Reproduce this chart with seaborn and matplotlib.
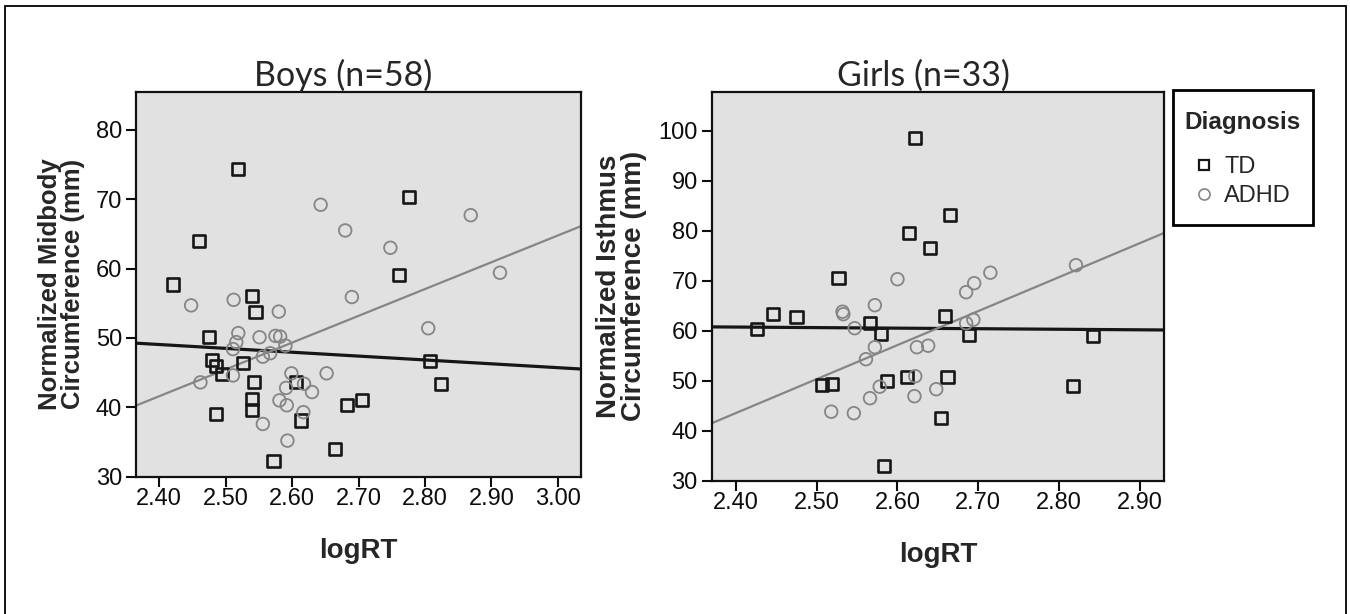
import numpy as np
import pandas as pd
import matplotlib
matplotlib.use('Agg')
import matplotlib.pyplot as plt
import seaborn as sns
from matplotlib import font_manager
from matplotlib.lines import Line2D
from matplotlib.patches import Rectangle

# Values (logRT, normalized circumference in mm)
boys_td_x = [2.519, 2.776, 2.460, 2.421, 2.761, 2.539, 2.545, 2.475, 2.479, 2.486,
             2.494, 2.526, 2.807, 2.543, 2.824, 2.606, 2.705, 2.683, 2.540, 2.540,
             2.486, 2.613, 2.664, 2.572]
boys_td_y = [74.4, 70.3, 64.0, 57.7, 59.1, 56.1, 53.7, 50.2, 46.8, 45.9,
             44.8, 46.4, 46.7, 43.7, 43.3, 43.7, 41.1, 40.3, 41.2, 39.6,
             39.1, 38.1, 34.0, 32.3]

boys_adhd_x = [2.643, 2.869, 2.680, 2.748, 2.913, 2.690, 2.448, 2.512, 2.580, 2.805,
               2.519, 2.551, 2.575, 2.582, 2.516, 2.511, 2.590, 2.567, 2.556, 2.652,
               2.599, 2.511, 2.462, 2.618, 2.591, 2.630, 2.581, 2.592, 2.617, 2.556,
               2.593]
boys_adhd_y = [69.2, 67.7, 65.5, 63.0, 59.4, 55.9, 54.7, 55.5, 53.8, 51.4,
               50.7, 50.1, 50.3, 50.2, 49.4, 48.4, 48.9, 47.8, 47.3, 44.9,
               44.9, 44.6, 43.6, 43.4, 42.8, 42.2, 41.0, 40.3, 39.3, 37.6,
               35.2]

girls_td_x = [2.622, 2.665, 2.614, 2.640, 2.527, 2.446, 2.475, 2.426, 2.566, 2.580,
              2.659, 2.689, 2.507, 2.519, 2.587, 2.612, 2.662, 2.654, 2.583, 2.842,
              2.817]
girls_td_y = [98.6, 83.1, 79.6, 76.5, 70.6, 63.3, 62.8, 60.4, 61.5, 59.3,
              62.9, 59.1, 49.1, 49.3, 49.9, 50.7, 50.7, 42.5, 32.9, 58.9,
              48.9]

girls_adhd_x = [2.600, 2.532, 2.533, 2.572, 2.547, 2.572, 2.561, 2.624, 2.638, 2.622,
                2.578, 2.566, 2.621, 2.648, 2.518, 2.546, 2.685, 2.695, 2.715, 2.694,
                2.685, 2.821]
girls_adhd_y = [70.3, 63.8, 63.3, 65.1, 60.5, 56.7, 54.3, 56.7, 57.0, 50.9,
                48.8, 46.5, 46.9, 48.3, 43.8, 43.5, 67.7, 69.5, 71.6, 62.2,
                61.5, 73.1]

diagnoses = ['TD', 'ADHD']

TD_COLOR = '#161616'
ADHD_COLOR = '#858585'
BG = '#e1e1e1'

sns.set_theme(style='ticks')
names = {f.name for f in font_manager.fontManager.ttflist}
tick_font = 'Liberation Sans Narrow' if 'Liberation Sans Narrow' in names else 'Liberation Sans'
title_font = 'Lato' if 'Lato' in names else 'DejaVu Sans'
plt.rcParams['font.family'] = ['Liberation Sans', 'DejaVu Sans']

fig = plt.figure(figsize=(13.5, 6.14), dpi=100)
ax1 = fig.add_axes([136 / 1350, 1 - 476.7 / 614, 445 / 1350, 385 / 614])
ax2 = fig.add_axes([711.7 / 1350, 1 - 480.7 / 614, 452.3 / 1350, 389 / 614])


def draw_panel(ax, td, adhd, xlim, ylim, xticks, yticks, title, title_x, ylabel, ylabel_size):
    ax.set_facecolor(BG)
    ax.set_xlim(xlim)
    ax.set_ylim(ylim)
    # fit lines go across the whole axis, like the original
    sns.regplot(x=td[0], y=td[1], ax=ax, ci=None, truncate=False, marker='s',
                color=TD_COLOR,
                scatter_kws=dict(s=76, facecolors='none', linewidths=1.9, alpha=1, zorder=3),
                line_kws=dict(color=TD_COLOR, lw=2.3, zorder=2))
    sns.regplot(x=adhd[0], y=adhd[1], ax=ax, ci=None, truncate=False, marker='o',
                color=ADHD_COLOR,
                scatter_kws=dict(s=82, facecolors='none', linewidths=1.3, alpha=1, zorder=3),
                line_kws=dict(color=ADHD_COLOR, lw=1.6, zorder=2))
    ax.set_xlim(xlim)
    ax.set_ylim(ylim)
    ax.set_xticks(xticks)
    ax.set_xticklabels([f'{t:.2f}' for t in xticks])
    ax.set_yticks(yticks)
    ax.tick_params(direction='out', length=7, width=1.5, colors='#0d0d0d',
                   labelsize=17, labelfontfamily=tick_font)
    ax.tick_params(axis='x', pad=1)
    ax.tick_params(axis='y', pad=3)
    for sp in ax.spines.values():
        sp.set_linewidth(1.6)
        sp.set_color('#111111')
    ax.set_title(title, fontsize=24.5, family=title_font, x=title_x, pad=3)
    ax.set_xlabel('logRT', fontsize=20, fontweight='bold', labelpad=20)
    ax.set_ylabel(ylabel, fontsize=ylabel_size, fontweight='bold', linespacing=0.95, labelpad=8)


draw_panel(ax1, (boys_td_x, boys_td_y), (boys_adhd_x, boys_adhd_y),
           (2.365, 3.035), (30, 85.5),
           [2.4, 2.5, 2.6, 2.7, 2.8, 2.9, 3.0], [30, 40, 50, 60, 70, 80],
           'Boys (n=58)', 0.465, 'Normalized Midbody\nCircumference (mm)', 18.5)
draw_panel(ax2, (girls_td_x, girls_td_y), (girls_adhd_x, girls_adhd_y),
           (2.370, 2.930), (30, 107.8),
           [2.4, 2.5, 2.6, 2.7, 2.8, 2.9], [30, 40, 50, 60, 70, 80, 90, 100],
           'Girls (n=33)', 0.469, 'Normalized Isthmus\nCircumference (mm)', 20)

# legend box drawn separately so the padding can differ left/right vs top/bottom
fig.add_artist(Rectangle((1173 / 1350, 1 - 225 / 614), 140 / 1350, 135 / 614,
                         transform=fig.transFigure, facecolor='white', edgecolor='black',
                         lw=2, zorder=5))
handles = [
    Line2D([], [], ls='none', marker='s', markersize=7.5, markerfacecolor='none',
           markeredgecolor=TD_COLOR, markeredgewidth=1.6),
    Line2D([], [], ls='none', marker='o', markersize=8, markerfacecolor='none',
           markeredgecolor=ADHD_COLOR, markeredgewidth=1.2),
]
leg = fig.legend(handles, diagnoses, title='Diagnosis', loc='center',
                 bbox_to_anchor=(1243 / 1350, 1 - 159 / 614), frameon=False,
                 fontsize=17, title_fontproperties={'weight': 'bold', 'size': 17.5},
                 handlelength=0.8, handletextpad=0.45, labelspacing=0.3, borderpad=0,
                 borderaxespad=0)
leg.set_zorder(6)
leg._legend_box.sep = 16

# thin border around the whole picture (open at the bottom edge)
fig.add_artist(Rectangle((5 / 1350, -0.05), 1341 / 1350, 1.05 - 6 / 614,
                         transform=fig.transFigure, fill=False, edgecolor='black', lw=1.3))

fig.savefig('out.png', dpi=100)
